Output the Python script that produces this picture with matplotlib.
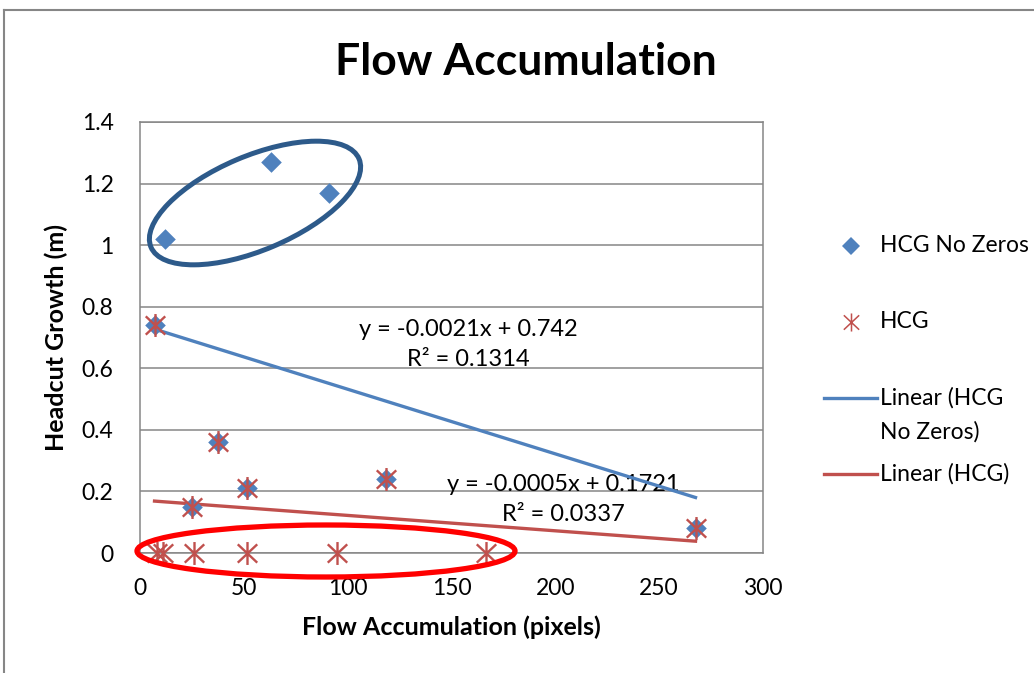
import matplotlib
matplotlib.use("Agg")
import matplotlib.pyplot as plt
from matplotlib.patches import Ellipse
from matplotlib.path import Path
import numpy as np

plt.rcParams['font.family'] = ['Lato', 'DejaVu Sans']

# HCG No Zeros series (flow accumulation in pixels, headcut growth in m)
nz_x = [12, 63, 91, 7, 37.5, 25, 51.5, 118.5, 267.5]
nz_y = [1.02, 1.27, 1.17, 0.74, 0.36, 0.15, 0.21, 0.24, 0.08]

# HCG series, including the zero-growth headcuts
hcg_x = [7, 37.5, 25, 51.5, 118.5, 267.5, 8, 11, 26, 51.5, 95, 166.5]
hcg_y = [0.74, 0.36, 0.15, 0.21, 0.24, 0.08, 0, 0, 0, 0, 0, 0]

# Linear trendline coefficients (slope, intercept, R^2)
fit_nz = (-0.0021, 0.742, 0.1314)
fit_hcg = (-0.0005, 0.1721, 0.0337)

x_ticks = [0, 50, 100, 150, 200, 250, 300]
x_tick_labels = ['0', '50', '100', '150', '200', '250', '300']
y_ticks = [0, 0.2, 0.4, 0.6, 0.8, 1.0, 1.2, 1.4]
y_tick_labels = ['0', '0.2', '0.4', '0.6', '0.8', '1', '1.2', '1.4']

BLUE = '#4F81BD'
RED = '#C0504D'
GRID = '#868686'

# Six-armed star marker: a vertical stroke crossed by an X
STAR = Path(
    [(0, -1), (0, 1), (-0.85, -0.8), (0.85, 0.8), (-0.85, 0.8), (0.85, -0.8)],
    [Path.MOVETO, Path.LINETO, Path.MOVETO, Path.LINETO, Path.MOVETO, Path.LINETO],
)

W, H = 1034, 673
fig = plt.figure(figsize=(W / 100, H / 100), dpi=100)
fig.patch.set_facecolor('white')

left, right, top, bottom = 140, 763, 122, 553
ax = fig.add_axes([left / W, 1 - bottom / H, (right - left) / W, (bottom - top) / H])
ax.set_xlim(0, 300)
ax.set_ylim(0, 1.4)
ax.set_xticks(x_ticks)
ax.set_xticklabels(x_tick_labels)
ax.set_yticks(y_ticks)
ax.set_yticklabels(y_tick_labels)
ax.tick_params(length=0, labelsize=16.5, colors='black')
ax.tick_params(axis='y', pad=19)
ax.tick_params(axis='x', pad=18)
ax.grid(axis='y', color=GRID, lw=1.1)
ax.set_axisbelow(True)
for s in ax.spines.values():
    s.set_color(GRID)
    s.set_linewidth(1.1)

ax.scatter(nz_x, nz_y, marker='D', s=110, color=BLUE, zorder=3, linewidths=0,
           clip_on=False)
ax.plot(hcg_x, hcg_y, ls='none', marker=STAR, ms=16.5, mew=1.7,
        color=RED, zorder=4, clip_on=False)

# Trendlines over the range of each series
xs = np.array([min(nz_x), max(nz_x)])
ax.plot(xs, fit_nz[0] * xs + fit_nz[1], color=BLUE, lw=2.4, zorder=2)
xs = np.array([min(hcg_x), max(hcg_x)])
ax.plot(xs, fit_hcg[0] * xs + fit_hcg[1], color=RED, lw=2.4, zorder=2)

ax.text(158, 0.726, f'y = {fit_nz[0]:.4f}x + {fit_nz[1]}', ha='center', va='center', fontsize=17)
ax.text(158, 0.627, f'R² = {fit_nz[2]}', ha='center', va='center', fontsize=17)
ax.text(204, 0.224, f'y = {fit_hcg[0]:.4f}x + {fit_hcg[1]}', ha='center', va='center', fontsize=17, zorder=1)
ax.text(204, 0.124, f'R² = {fit_hcg[2]}', ha='center', va='center', fontsize=17, zorder=1)

ax.set_xlabel('Flow Accumulation (pixels)', fontsize=18, fontweight='bold', labelpad=12)
ax.set_ylabel('Headcut Growth (m)', fontsize=18, fontweight='bold', labelpad=10)

# Overlay in pixel units for title, legend, frame and highlight ellipses
ov = fig.add_axes([0, 0, 1, 1], zorder=5)
ov.set_xlim(0, W)
ov.set_ylim(H, 0)
ov.axis('off')
ov.patch.set_alpha(0)

ov.text(526, 62, 'Flow Accumulation', ha='center', va='center',
        fontsize=32, fontweight='bold')

ov.plot([4, W], [10, 10], color=GRID, lw=1.5)
ov.plot([4, 4], [10, H], color=GRID, lw=1.5)

# Legend
ov.plot([851], [246], marker='D', ms=9, color=BLUE, mew=0)
ov.text(880, 246, 'HCG No Zeros', va='center', fontsize=16.5)
ov.plot([851], [322], marker=STAR, ms=13, mew=1.1, color=RED)
ov.text(880, 322, 'HCG', va='center', fontsize=16.5)
ov.plot([824, 877], [398, 398], color=BLUE, lw=2.4)
ov.text(880, 398, 'Linear (HCG', va='center', fontsize=16.5)
ov.text(880, 432, 'No Zeros)', va='center', fontsize=16.5)
ov.plot([824, 877], [474, 474], color=RED, lw=2.4)
ov.text(880, 474, 'Linear (HCG)', va='center', fontsize=16.5)

# Highlight ellipses
ov.add_patch(Ellipse((255, 203), 226, 94, angle=-23, fill=False,
                     ec='#2D5A8A', lw=3.6))
ov.add_patch(Ellipse((326, 551), 378, 52, angle=0, fill=False,
                     ec='#FF0000', lw=3.8))

fig.savefig('out.png', dpi=100)
